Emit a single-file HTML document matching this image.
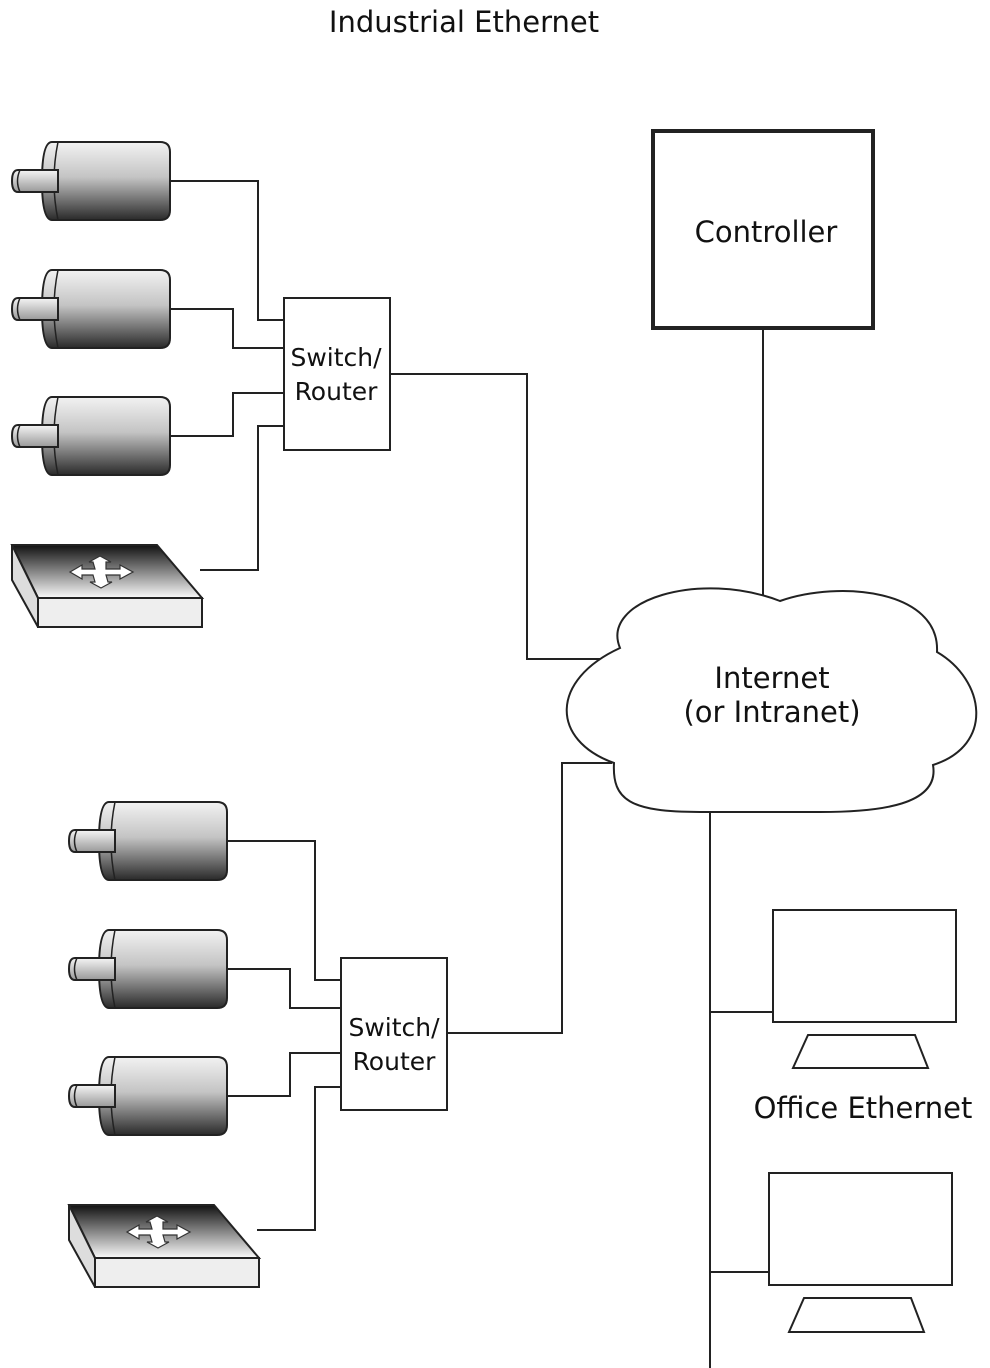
<!DOCTYPE html>
<html><head><meta charset="utf-8"><style>
html,body{margin:0;padding:0;background:#fff;}
svg{display:block;}
text{font-family:"DejaVu Sans","Liberation Sans",sans-serif;fill:#111;}
</style></head><body>
<svg width="990" height="1368" viewBox="0 0 990 1368" xmlns="http://www.w3.org/2000/svg">
<defs>
<linearGradient id="mg" x1="0" y1="0" x2="0" y2="1">
<stop offset="0" stop-color="#f2f2f2"/><stop offset="0.45" stop-color="#c4c4c4"/><stop offset="1" stop-color="#2a2a2a"/>
</linearGradient>
<linearGradient id="sg" x1="0" y1="0" x2="0" y2="1">
<stop offset="0" stop-color="#f5f5f5"/><stop offset="1" stop-color="#999"/>
</linearGradient>
<linearGradient id="dg" x1="0" y1="0" x2="0" y2="1">
<stop offset="0" stop-color="#111"/><stop offset="1" stop-color="#fafafa"/>
</linearGradient>
<g id="motor">
<path d="M52,-39 L160,-39 Q170,-39 170,-29 L170,29 Q170,39 160,39 L52,39 Q42,39 42,0 Q42,-39 52,-39 Z" fill="url(#mg)" stroke="#222" stroke-width="2"/>
<path d="M58,-39 Q50,0 58,39" fill="none" stroke="#222" stroke-width="1.5"/>
<path d="M18,-11 L58,-11 L58,11 L18,11 Q12,11 12,0 Q12,-11 18,-11 Z" fill="url(#sg)" stroke="#222" stroke-width="2"/>
<path d="M20,-11 Q15,0 20,11" fill="none" stroke="#222" stroke-width="1.5"/>
</g>
<g id="dev">
<polygon points="12,0 157,0 202,53 38,53" fill="url(#dg)" stroke="#222" stroke-width="2"/>
<polygon points="38,53 202,53 202,82 38,82" fill="#eee" stroke="#222" stroke-width="2"/>
<polygon points="12,0 38,53 38,82 12,35" fill="#ddd" stroke="#222" stroke-width="2"/>
<path d="M70,27 L82,20 L82,24 L95,24 L93,17 L89,17 L100,11 L111,17 L106,17 L106,24 L120,24 L120,20 L133,27 L120,34 L120,30 L106,30 L108,37 L112,37 L101,43 L90,37 L95,37 L93,30 L82,30 L82,34 Z" fill="#fff" stroke="#333" stroke-width="1.2"/>
</g>
</defs>

<text x="464" y="32" font-size="29" text-anchor="middle">Industrial Ethernet</text>

<g fill="none" stroke="#222" stroke-width="2">
<polyline points="170,181 258,181 258,320 284,320"/>
<polyline points="170,309 233,309 233,348 284,348"/>
<polyline points="170,436 233,436 233,393 284,393"/>
<polyline points="200,570 258,570 258,426 284,426"/>
<polyline points="390,374 527,374 527,659 600,659"/>
<polyline points="227,841 315,841 315,980 341,980"/>
<polyline points="227,969 290,969 290,1008 341,1008"/>
<polyline points="227,1096 290,1096 290,1053 341,1053"/>
<polyline points="257,1230 315,1230 315,1087 341,1087"/>
<polyline points="447,1033 562,1033 562,763 612,763"/>
<line x1="763" y1="328" x2="763" y2="598"/>
<line x1="710" y1="812" x2="710" y2="1368"/>
<line x1="710" y1="1012" x2="773" y2="1012"/>
<line x1="710" y1="1272" x2="769" y2="1272"/>
</g>

<use href="#motor" x="0" y="181"/>
<use href="#motor" x="0" y="309"/>
<use href="#motor" x="0" y="436"/>
<use href="#dev" x="0" y="545"/>
<use href="#motor" x="57" y="841"/>
<use href="#motor" x="57" y="969"/>
<use href="#motor" x="57" y="1096"/>
<use href="#dev" x="57" y="1205"/>

<rect x="284" y="298" width="106" height="152" fill="#fff" stroke="#222" stroke-width="2"/>
<text x="336" y="366" font-size="25" text-anchor="middle">Switch/</text>
<text x="336" y="400" font-size="25" text-anchor="middle">Router</text>
<rect x="341" y="958" width="106" height="152" fill="#fff" stroke="#222" stroke-width="2"/>
<text x="394" y="1036" font-size="25" text-anchor="middle">Switch/</text>
<text x="394" y="1070" font-size="25" text-anchor="middle">Router</text>

<rect x="653" y="131" width="220" height="197" fill="#fff" stroke="#222" stroke-width="4"/>
<text x="766" y="242" font-size="29" text-anchor="middle">Controller</text>

<path d="M620,648 C600,600 700,570 780,601 C840,580 940,590 937,652 C985,680 995,745 933,765 C940,805 880,812 820,812 L700,812 C630,812 612,800 614,763 C550,740 550,680 620,648 Z" fill="#fff" stroke="#222" stroke-width="2"/>
<text x="772" y="688" font-size="29" text-anchor="middle">Internet</text>
<text x="772" y="722" font-size="29" text-anchor="middle">(or Intranet)</text>

<rect x="773" y="910" width="183" height="112" fill="#fff" stroke="#222" stroke-width="2"/>
<polygon points="808,1035 915,1035 928,1068 793,1068" fill="#fff" stroke="#222" stroke-width="2"/>
<rect x="769" y="1173" width="183" height="112" fill="#fff" stroke="#222" stroke-width="2"/>
<polygon points="804,1298 911,1298 924,1332 789,1332" fill="#fff" stroke="#222" stroke-width="2"/>
<text x="863" y="1118" font-size="29" text-anchor="middle">Office Ethernet</text>
</svg>
</body></html>
